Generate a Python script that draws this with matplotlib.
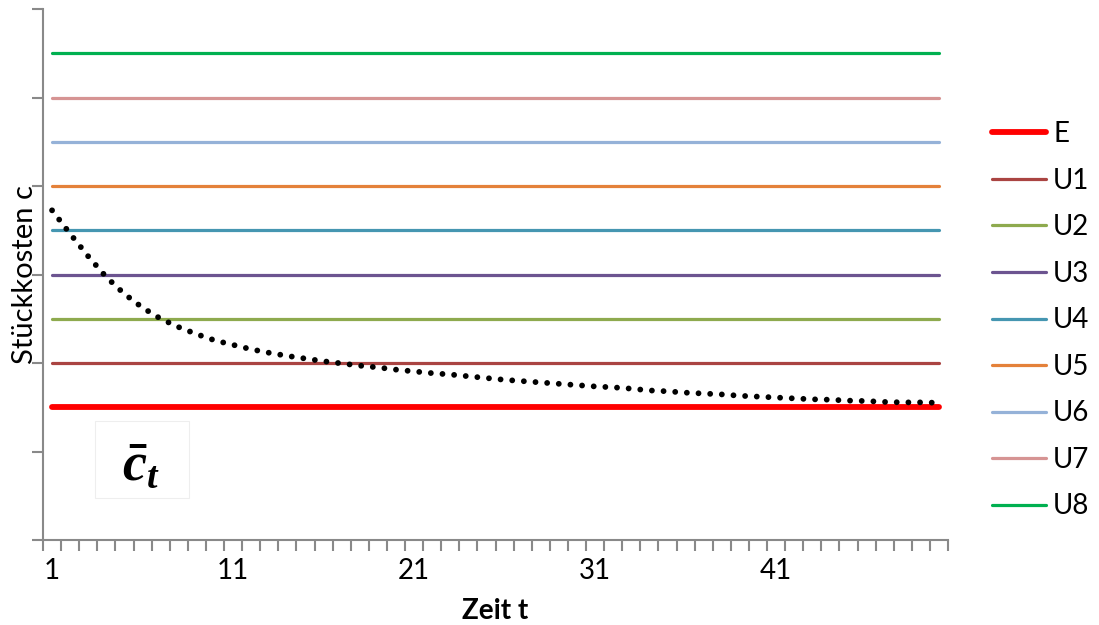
import numpy as np
import matplotlib
matplotlib.use("Agg")
import matplotlib.pyplot as plt

plt.rcParams['font.family'] = ['Lato', 'DejaVu Sans']
plt.rcParams['mathtext.fontset'] = 'custom'
plt.rcParams['mathtext.it'] = 'Liberation Serif:italic:bold'
plt.rcParams['mathtext.rm'] = 'Liberation Serif:bold'
plt.rcParams['mathtext.bf'] = 'Liberation Serif:italic:bold'

# periods
t = np.arange(1, 51)

# constant unit-cost levels
level_names = ["E", "U1", "U2", "U3", "U4", "U5", "U6", "U7", "U8"]
level_values = [3, 4, 5, 6, 7, 8, 9, 10, 11]
level_colors = ["#FF0000", "#AA4442", "#8EAA4E", "#6C5490", "#4596B1",
                "#E4813A", "#95B2D8", "#D69493", "#00B050"]
level_widths = [4.2, 2.3, 2.3, 2.3, 2.3, 2.3, 2.3, 2.3, 2.3]

# average unit cost over time
avg_cost = [7.45, 6.92, 6.41, 5.94, 5.56, 5.25, 5.00, 4.81, 4.65, 4.51,
            4.41, 4.31, 4.23, 4.16, 4.10, 4.04, 3.99, 3.94, 3.90, 3.85,
            3.81, 3.77, 3.74, 3.70, 3.66, 3.62, 3.59, 3.56, 3.53, 3.50,
            3.47, 3.45, 3.42, 3.38, 3.36, 3.33, 3.31, 3.29, 3.26, 3.24,
            3.22, 3.20, 3.18, 3.17, 3.15, 3.14, 3.12, 3.11, 3.11, 3.10]

x_labels = ["1", "11", "21", "31", "41"]
x_label_pos = [1, 11, 21, 31, 41]

W, H = 1099, 625
fig = plt.figure(figsize=(W / 100, H / 100), dpi=100)
ax = fig.add_axes([43 / W, 85 / H, 905 / W, 531 / H])

axis_grey = "#898989"
fs = 20

for name, val, col, lw in zip(level_names, level_values, level_colors, level_widths):
    ax.plot(t, [val] * len(t), color=col, lw=lw, solid_capstyle='round', label=name)

ax.plot(t, avg_cost, color="black", lw=4.2,
        linestyle=(0, (0.001, 2.0)), dash_capstyle='round')

ax.set_xlim(0.5, 50.5)
ax.set_ylim(0, 12)

for side in ("top", "right"):
    ax.spines[side].set_visible(False)
for side in ("left", "bottom"):
    ax.spines[side].set_color(axis_grey)
    ax.spines[side].set_linewidth(1.5)

ax.set_yticks(np.arange(0, 13, 2))
ax.set_yticklabels([])
ax.tick_params(axis='y', direction='out', length=8, width=1.5, color=axis_grey)

ax.set_xticks(np.arange(0.5, 51, 1))
ax.set_xticklabels([])
ax.tick_params(axis='x', which='major', direction='out', length=8, width=1.5,
               color=axis_grey)
ax.set_xticks(x_label_pos, minor=True)
ax.set_xticklabels(x_labels, minor=True, fontsize=fs)
ax.tick_params(axis='x', which='minor', length=0, pad=13)

ax.set_xlabel("Zeit t", fontsize=fs, fontweight='bold')
ax.xaxis.set_label_coords(0.5, -0.11)
ax.set_ylabel("Stückkosten c", fontsize=21)
ax.yaxis.set_label_coords(-0.005, 0.5)

leg = ax.legend(loc='upper left', frameon=False, fontsize=fs,
                handlelength=1.95, handletextpad=0.25, labelspacing=0.74,
                borderaxespad=0, borderpad=0)
leg.set_bbox_to_anchor((992 / W, 1 - 121 / H), transform=fig.transFigure)

# label box for the average-cost curve
bx, by, bw, bh = 95, 421, 94, 77
rect = plt.Rectangle((bx / W, 1 - (by + bh) / H), bw / W, bh / H,
                     transform=fig.transFigure, facecolor="white",
                     edgecolor="#EEEEEE", lw=0.8)
fig.patches.append(rect)
fig.text(141 / W, 1 - 466 / H, r"$\bar{c}_{t}$", fontsize=39,
         ha='center', va='center')

fig.savefig("out.png", dpi=100)
